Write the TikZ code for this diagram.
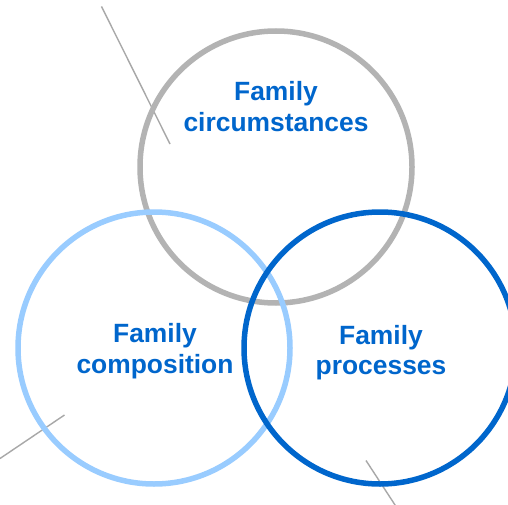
\documentclass[tikz,border=0pt]{standalone}
\usepackage{fontspec}
\setmainfont{Liberation Sans}
\definecolor{ringgray}{HTML}{B3B3B3}
\definecolor{ringlight}{HTML}{99CCFF}
\definecolor{ringdark}{HTML}{0066CC}
\definecolor{txtblue}{HTML}{0066CC}
\definecolor{thingray}{HTML}{A8A8A8}
\begin{document}
\begin{tikzpicture}[x=1pt,y=-1pt,
  ring/.style={line width=5.5pt},
  thin/.style={draw=thingray,line width=1.4pt},
  label/.style={text=txtblue,font=\fontsize{26.4}{30.5}\selectfont\bfseries,align=center,anchor=base,inner sep=0pt}]
\useasboundingbox (0,0) rectangle (508,505);
\clip (0,0) rectangle (508,505);
\fill[white] (0,0) rectangle (508,505);
% thin gray lines
\coordinate (l1a) at (101.5,6.5);
\coordinate (l1b) at (170,144);
\coordinate (l2a) at (0,458.5);
\coordinate (l2b) at (64.5,415);
\coordinate (l3a) at (366,460.5);
\coordinate (l3b) at (397,508);
\draw[thin] (l1a) -- (l1b);
\draw[thin] (l2a) -- (l2b);
\draw[thin] (l3a) -- (l3b);
% rings
\node[circle,draw=ringgray,ring,minimum size=272pt,inner sep=0pt] (circ) at (276,167) {};
\node[circle,draw=ringlight,ring,minimum size=272pt,inner sep=0pt] (comp) at (154,348) {};
\node[circle,draw=ringdark,ring,minimum size=272pt,inner sep=0pt] (proc) at (380,348) {};
% labels
\node[label] (tcirc) at (276,131.5) {Family\\circumstances};
\node[label] (tcomp) at (155,373) {Family\\composition};
\node[label] (tproc) at (381,374.5) {Family\\processes};
\end{tikzpicture}
\end{document}
